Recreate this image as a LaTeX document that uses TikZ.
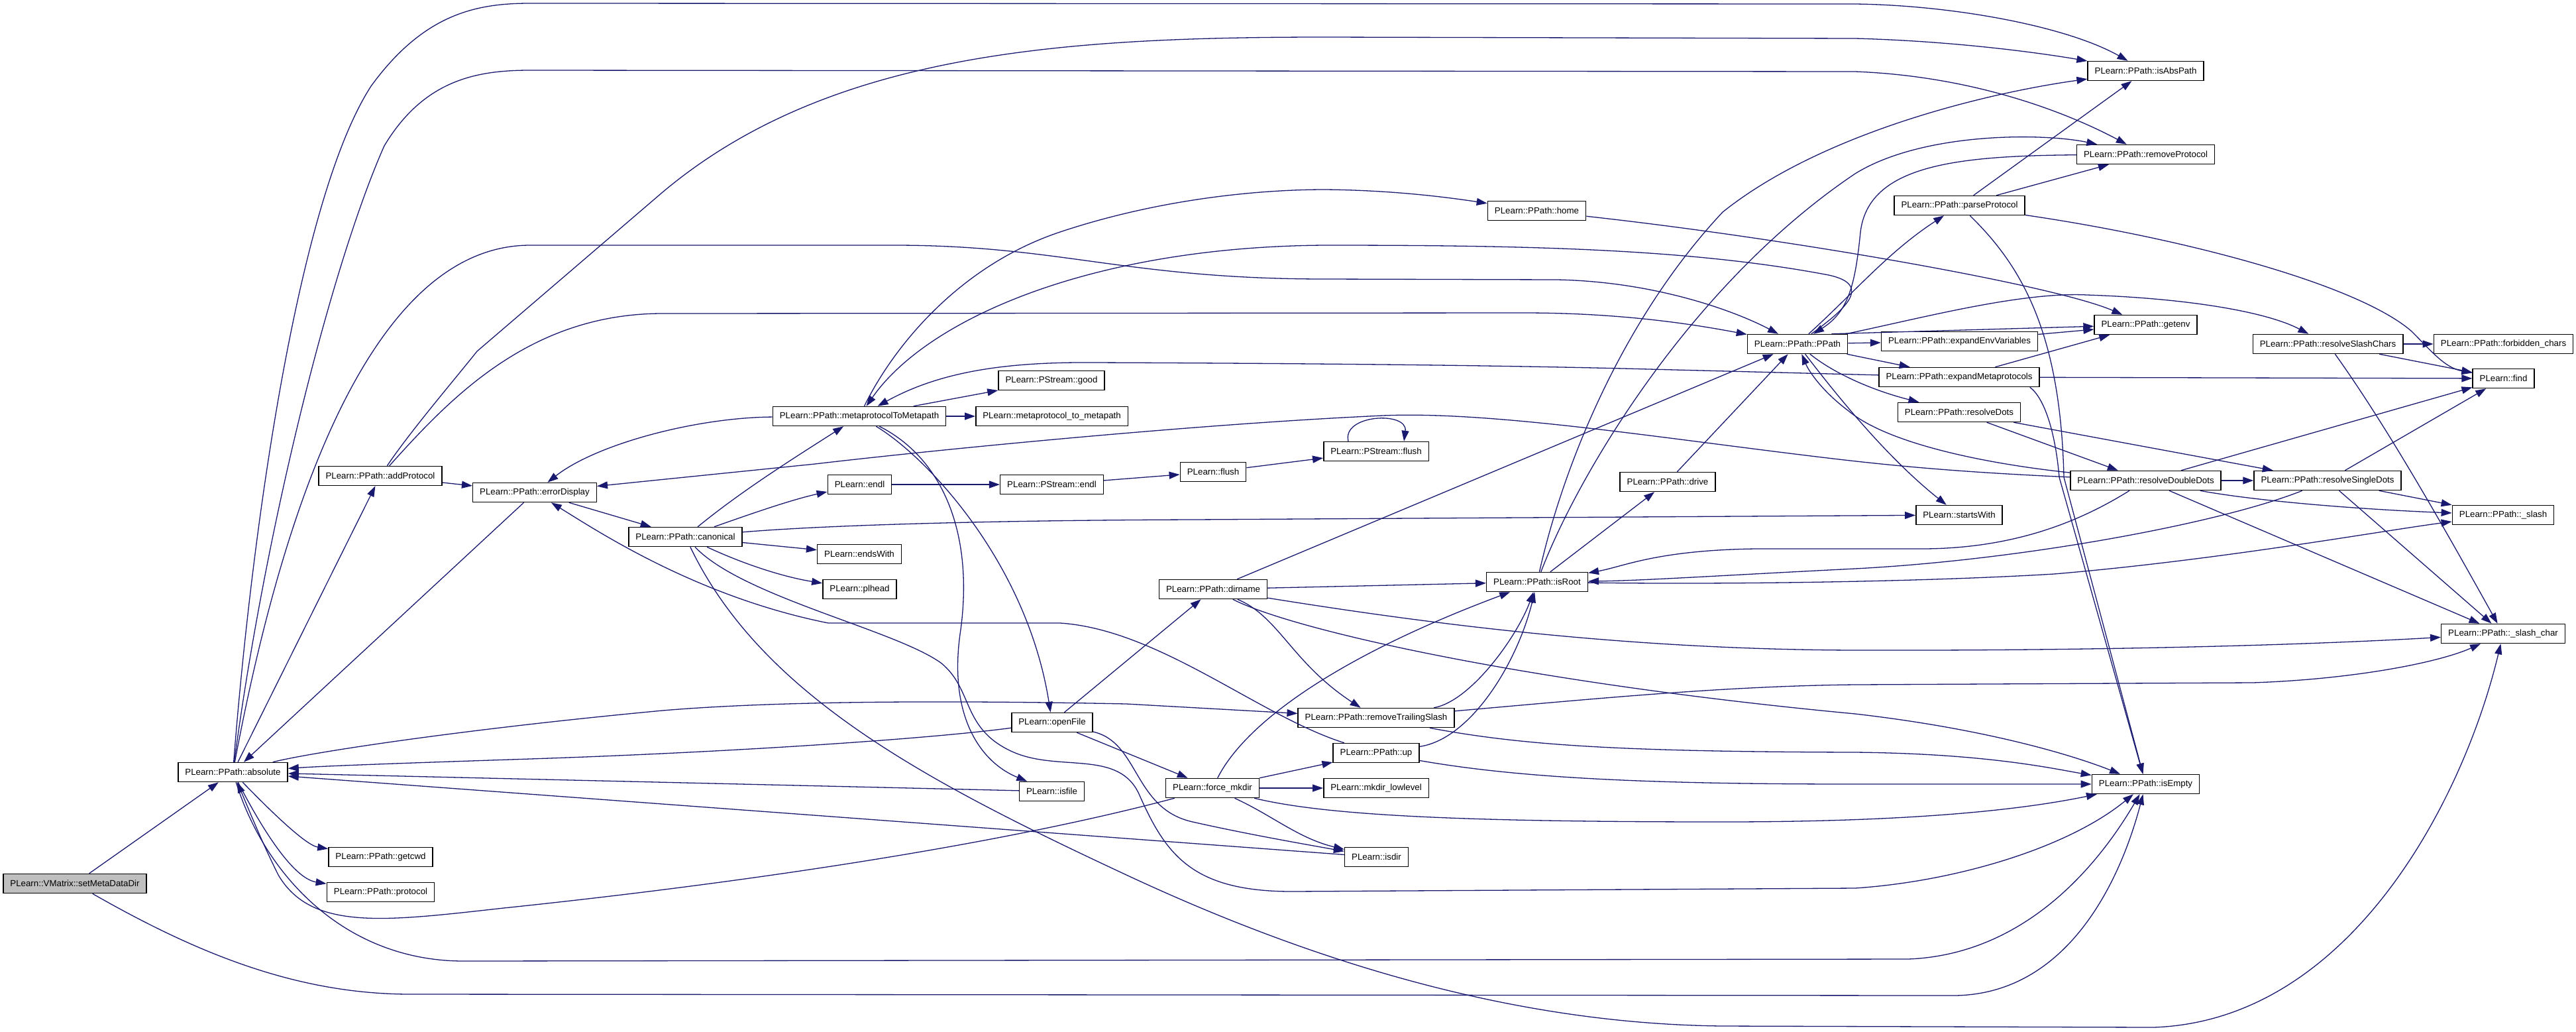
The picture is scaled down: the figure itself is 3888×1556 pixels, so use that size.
\documentclass[tikz,border=0pt]{standalone}
\usepackage{fontspec}
\setmainfont{Liberation Sans}
\usetikzlibrary{arrows.meta}
\definecolor{edgeblue}{HTML}{191970}

\begin{document}
\begin{tikzpicture}[x=1pt,y=-1pt,font=\fontsize{13.3}{16}\selectfont,
  fn/.style={draw=black,line width=1.5pt,fill=white,inner xsep=10.5pt,inner ysep=0pt,minimum height=29pt},
  root/.style={fn,fill=black!25},
  call/.style={draw=edgeblue,line width=1.3pt,-{Triangle[length=16pt,width=11pt]}}]

\useasboundingbox (0,0) rectangle (3888,1556);

\node[root] (setmeta) at (113,1333) {PLearn::VMatrix::setMetaDataDir};
\node[fn] (absolute) at (351.5,1165) {PLearn::PPath::absolute};
\node[fn] (addprotocol) at (574,718) {PLearn::PPath::addProtocol};
\node[fn] (getcwd) at (574.5,1293) {PLearn::PPath::getcwd};
\node[fn] (protocol) at (574.5,1346) {PLearn::PPath::protocol};
\node[fn] (errordisplay) at (807,743) {PLearn::PPath::errorDisplay};
\node[fn] (canonical) at (1034.5,810) {PLearn::PPath::canonical};
\node[fn] (metatometa) at (1297,628) {PLearn::PPath::metaprotocolToMetapath};
\node[fn] (endl) at (1297.5,731) {PLearn::endl};
\node[fn] (endswith) at (1297,836) {PLearn::endsWith};
\node[fn] (plhead) at (1297.5,889) {PLearn::plhead};
\node[fn] (good) at (1587,574) {PLearn::PStream::good};
\node[fn] (mptomp) at (1587.5,628) {PLearn::metaprotocol\_to\_metapath};
\node[fn] (psendl) at (1587.5,731) {PLearn::PStream::endl};
\node[fn] (openfile) at (1588,1090) {PLearn::openFile};
\node[fn] (isfile) at (1587.5,1194) {PLearn::isfile};
\node[fn] (flush) at (1831,712) {PLearn::flush};
\node[fn] (dirname) at (1831,889) {PLearn::PPath::dirname};
\node[fn] (forcemkdir) at (1830,1189) {PLearn::force\_mkdir};
\node[fn] (home) at (2319.5,318) {PLearn::PPath::home};
\node[fn] (psflush) at (2077,681) {PLearn::PStream::flush};
\node[fn] (removets) at (2077,1083) {PLearn::PPath::removeTrailingSlash};
\node[fn] (up) at (2077,1136) {PLearn::PPath::up};
\node[fn] (mkdirll) at (2077,1189) {PLearn::mkdir\_lowlevel};
\node[fn] (isdir) at (2077.5,1293) {PLearn::isdir};
\node[fn] (isroot) at (2320,878) {PLearn::PPath::isRoot};
\node[fn] (drive) at (2517,727) {PLearn::PPath::drive};
\node[fn] (ppath) at (2713,519) {PLearn::PPath::PPath};
\node[fn] (startswith) at (2957,777) {PLearn::startsWith};
\node[fn] (parseprotocol) at (2957.5,310) {PLearn::PPath::parseProtocol};
\node[fn] (expandenv) at (2957.5,515) {PLearn::PPath::expandEnvVariables};
\node[fn] (expandmeta) at (2957,569) {PLearn::PPath::expandMetaprotocols};
\node[fn] (resolvedots) at (2957,622) {PLearn::PPath::resolveDots};
\node[fn] (isabspath) at (3238.5,107) {PLearn::PPath::isAbsPath};
\node[fn] (removeprotocol) at (3238.5,233) {PLearn::PPath::removeProtocol};
\node[fn] (getenv) at (3238.5,490) {PLearn::PPath::getenv};
\node[fn] (resolvedd) at (3238.5,725) {PLearn::PPath::resolveDoubleDots};
\node[fn] (isempty) at (3238.5,1183) {PLearn::PPath::isEmpty};
\node[fn] (resolveslash) at (3513.5,519) {PLearn::PPath::resolveSlashChars};
\node[fn] (resolvesd) at (3513,725) {PLearn::PPath::resolveSingleDots};
\node[fn] (forbidden) at (3778.5,519) {PLearn::PPath::forbidden\_chars};
\node[fn] (find) at (3778.5,571) {PLearn::find};
\node[fn] (slash) at (3778,777) {PLearn::PPath::\_slash};
\node[fn] (slashchar) at (3778,956) {PLearn::PPath::\_slash\_char};

\draw[call] (setmeta) -- (absolute);
\draw[call] (setmeta) .. controls (300,1440) and (450,1500) .. (620,1500) -- (2950,1502) .. controls (3120,1500) and (3200,1330) .. (isempty);

\draw[call] (absolute) .. controls (380,800) and (450,300) .. (560,130) .. controls (640,20) and (720,5) .. (800,5) -- (2800,6) .. controls (2950,8) and (3120,40) .. (isabspath);
\draw[call] (absolute) .. controls (400,800) and (500,400) .. (580,220) .. controls (640,120) and (720,106) .. (800,106) -- (2800,108) .. controls (2980,115) and (3120,170) .. (removeprotocol);
\draw[call] (absolute) .. controls (420,800) and (550,370) .. (800,370) -- (1350,370) .. controls (1600,370) and (1700,421) .. (2000,421) -- (2350,422) .. controls (2500,425) and (2620,470) .. (ppath);
\draw[call] (absolute) -- (addprotocol);
\draw[call] (absolute) .. controls (400,1215) and (460,1275) .. (getcwd);
\draw[call] (absolute) .. controls (390,1240) and (440,1325) .. (protocol);
\draw[call] (absolute) .. controls (470,1135) and (700,1100) .. (1000,1072) .. controls (1200,1055) and (1500,1058) .. (1700,1062) -- (removets);
\draw[call] (absolute) .. controls (400,1320) and (520,1450) .. (700,1450) -- (2880,1447) .. controls (3060,1440) and (3170,1300) .. (isempty);

\draw[call] (errordisplay) -- (absolute);
\draw[call] (openfile) .. controls (1400,1115) and (1100,1135) .. (800,1145) .. controls (650,1150) and (500,1155) .. (absolute);
\draw[call] (isfile) -- (absolute);
\draw[call] (isdir) -- (absolute);
\draw[call] (forcemkdir) .. controls (1450,1290) and (1000,1345) .. (760,1370) .. controls (580,1390) and (470,1405) .. (420,1320) .. controls (395,1270) and (375,1220) .. (absolute);

\draw[call] (addprotocol) -- (errordisplay);
\draw[call] (addprotocol) .. controls (620,650) and (680,580) .. (720,530) -- (1000,290) .. controls (1250,80) and (1600,56) .. (2000,56) -- (2800,58) .. controls (2950,62) and (3080,80) .. (isabspath);
\draw[call] (addprotocol) .. controls (680,600) and (800,473) .. (1000,473) -- (2300,472) .. controls (2450,472) and (2560,490) .. (ppath);

\draw[call] (errordisplay) -- (canonical);
\draw[call] (metatometa) .. controls (1050,630) and (900,670) .. (errordisplay);
\draw[call] (resolvedd) .. controls (2950,712) and (2850,702) .. (2750,690) .. controls (2500,660) and (2250,620) .. (2087,627) .. controls (1800,640) and (1400,680) .. (1230,700) -- (errordisplay);
\draw[call] (up) .. controls (1900,1080) and (1750,950) .. (1600,940) -- (1250,940) .. controls (1050,900) and (900,800) .. (errordisplay);

\draw[call] (canonical) .. controls (1120,740) and (1200,690) .. (metatometa);
\draw[call] (canonical) .. controls (1120,780) and (1190,755) .. (endl);
\draw[call] (canonical) -- (endswith);
\draw[call] (canonical) .. controls (1120,850) and (1180,870) .. (plhead);
\draw[call] (canonical) .. controls (1250,792) and (1500,785) .. (1800,784) -- (startswith);
\draw[call] (canonical) .. controls (1120,900) and (1350,950) .. (1420,1000) .. controls (1470,1040) and (1450,1100) .. (1530,1135) .. controls (1600,1165) and (1690,1130) .. (1720,1200) .. controls (1760,1290) and (1800,1345) .. (1950,1345) -- (2800,1340) .. controls (2950,1330) and (3120,1280) .. (isempty);
\draw[call] (canonical) .. controls (1150,1050) and (1400,1180) .. (1700,1320) .. controls (2000,1460) and (2300,1545) .. (2600,1548) -- (3250,1550) .. controls (3550,1540) and (3720,1200) .. (slashchar);

\draw[call] (metatometa) .. controls (1350,520) and (1450,400) .. (1600,350) .. controls (1750,300) and (1900,286) .. (2000,286) .. controls (2100,287) and (2180,297) .. (home);
\draw[call] (metatometa) -- (good);
\draw[call] (metatometa) -- (mptomp);
\draw[call] (metatometa) .. controls (1400,690) and (1550,850) .. (openfile);
\draw[call] (metatometa) .. controls (1420,690) and (1470,800) .. (1450,950) .. controls (1430,1080) and (1480,1150) .. (isfile);

\draw[call] (endl) -- (psendl);
\draw[call] (psendl) -- (flush);
\draw[call] (flush) -- (psflush);
\draw[call] ([xshift=-42pt]psflush.north) .. controls (2025,625) and (2125,620) .. ([xshift=42pt]psflush.north);
\draw[call] (home) .. controls (2700,360) and (3100,430) .. (getenv);

\draw[call] (openfile) -- (dirname);
\draw[call] (openfile) -- (forcemkdir);
\draw[call] (openfile) .. controls (1720,1120) and (1710,1220) .. (1800,1240) .. controls (1880,1258) and (1960,1272) .. (isdir);

\draw[call] (dirname) -- (ppath);
\draw[call] (dirname) -- (isroot);
\draw[call] (dirname) .. controls (1930,930) and (1950,1000) .. (removets);
\draw[call] (dirname) .. controls (2150,940) and (2450,980) .. (2800,981) .. controls (3200,982) and (3500,972) .. (slashchar);
\draw[call] (dirname) .. controls (1950,950) and (2300,1030) .. (2800,1077) .. controls (3000,1100) and (3130,1140) .. (isempty);

\draw[call] (forcemkdir) .. controls (1880,1090) and (2020,990) .. (isroot);
\draw[call] (forcemkdir) -- (up);
\draw[call] (forcemkdir) -- (mkdirll);
\draw[call] (forcemkdir) .. controls (1920,1230) and (1960,1265) .. (isdir);
\draw[call] (forcemkdir) .. controls (2000,1230) and (2200,1240) .. (2600,1240) .. controls (2900,1240) and (3060,1220) .. (isempty);

\draw[call] (removets) .. controls (2220,1058) and (2290,960) .. (isroot);
\draw[call] (removets) .. controls (2400,1055) and (2600,1035) .. (2800,1033) -- (3400,1030) .. controls (3550,1025) and (3680,1000) .. (slashchar);
\draw[call] (removets) .. controls (2300,1125) and (2450,1134) .. (2800,1135) .. controls (3000,1137) and (3100,1160) .. (isempty);
\draw[call] (up) .. controls (2220,1115) and (2290,1000) .. (isroot);
\draw[call] (up) .. controls (2300,1175) and (2500,1183) .. (2800,1183) -- (isempty);

\draw[call] (isroot) -- (drive);
\draw[call] (isroot) .. controls (2360,700) and (2450,480) .. (2600,320) .. controls (2750,200) and (3000,140) .. (isabspath);
\draw[call] (isroot) .. controls (2380,720) and (2550,430) .. (2800,262) .. controls (2900,200) and (3080,200) .. (removeprotocol);
\draw[call] (isroot) .. controls (2600,882) and (2900,878) .. (3100,866) .. controls (3350,845) and (3600,800) .. (slash);
\draw[call] (drive) -- (ppath);

\draw[call] (ppath) .. controls (2800,440) and (2850,380) .. (parseprotocol);
\draw[call] (ppath) -- (expandenv);
\draw[call] (ppath) -- (expandmeta);
\draw[call] (ppath) .. controls (2770,565) and (2830,590) .. (resolvedots);
\draw[call] ([xshift=-25pt]ppath.north east) -- (getenv);
\draw[call] (ppath) .. controls (2790,620) and (2860,700) .. (startswith);
\draw[call] (ppath) .. controls (2900,480) and (3050,440) .. (3150,445) .. controls (3300,450) and (3420,470) .. (resolveslash);
\draw[call] (ppath) .. controls (2780,470) and (2830,430) .. (2760,415) .. controls (2550,375) and (2300,370) .. (2000,370) .. controls (1650,372) and (1400,480) .. (metatometa);
\draw[call] (removeprotocol) .. controls (2950,235) and (2820,250) .. (2808,350) .. controls (2800,430) and (2790,470) .. (ppath);
\draw[call] (resolvedd) .. controls (3000,700) and (2850,670) .. (2790,620) .. controls (2750,590) and (2730,560) .. (ppath);

\draw[call] (parseprotocol) -- (isabspath);
\draw[call] (parseprotocol) -- (removeprotocol);
\draw[call] (parseprotocol) .. controls (3300,360) and (3560,430) .. (3640,500) .. controls (3670,530) and (3690,555) .. (find);
\draw[call] (parseprotocol) .. controls (3050,400) and (3110,500) .. (3115,720) -- (isempty);
\draw[call] (expandenv) -- (getenv);
\draw[call] (expandmeta) -- (getenv);
\draw[call] (expandmeta) -- (find);
\draw[call] ([xshift=-15pt]expandmeta.south east) .. controls (3085,600) and (3102,650) .. (3108,720) -- (isempty);
\draw[call] (expandmeta) -- (2450,556) .. controls (2200,550) and (1900,548) .. (1650,547) .. controls (1520,546) and (1420,560) .. (metatometa);

\draw[call] (resolvedots) -- (resolvedd);
\draw[call] (resolvedots) -- (resolvesd);
\draw[call] (resolvedd) -- (resolvesd);
\draw[call] (resolvedd) .. controls (3400,755) and (3550,768) .. (slash);
\draw[call] (resolvedd) -- (slashchar);
\draw[call] (resolvedd) -- (find);
\draw[call] (resolvedd) .. controls (3150,780) and (3050,828) .. (2900,828) -- (2650,828) .. controls (2500,830) and (2450,855) .. (isroot);
\draw[call] (resolvesd) -- (find);
\draw[call] (resolvesd) -- (slash);
\draw[call] (resolvesd) -- (slashchar);
\draw[call] (resolvesd) .. controls (3350,790) and (3050,845) .. (2800,858) .. controls (2600,868) and (2480,876) .. (isroot);
\draw[call] (resolveslash) -- (forbidden);
\draw[call] (resolveslash) -- (find);
\draw[call] (resolveslash) .. controls (3600,640) and (3680,780) .. (slashchar);

\end{tikzpicture}
\end{document}
